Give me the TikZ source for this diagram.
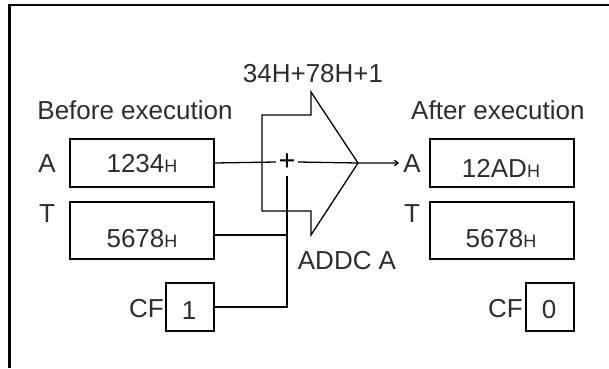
\documentclass[tikz,border=0pt]{standalone}
\usepackage{fontspec}
\setmainfont{Liberation Sans}
\usetikzlibrary{arrows.meta}
\definecolor{txt}{RGB}{45,45,45}
\newcommand\hsub{{\fontsize{18}{20}\selectfont H}}
\begin{document}
\begin{tikzpicture}[x=1pt,y=-1pt,
  lbl/.style={text=txt,font=\fontsize{26}{30}\selectfont,inner sep=0pt,anchor=base},
  box/.style={draw,line width=1.3pt,minimum width=144pt,inner sep=0pt},
  wire/.style={line width=1.3pt}]
\useasboundingbox (0,0) rectangle (609,368);
\draw[line width=2.6pt] (9.5,368) -- (9.5,5) -- (609,5);
% boxes
\node[box,minimum height=48pt] (Ab) at (142,163) {};
\node[box,minimum height=57pt] (Tb) at (142,230.5) {};
\node[box,minimum width=48pt,minimum height=48pt] (Cb) at (190,307) {};
\node[box,minimum height=48pt] (Aa) at (502,163) {};
\node[box,minimum height=57pt] (Ta) at (502,230.5) {};
\node[box,minimum width=48pt,minimum height=48pt] (Ca) at (550,307) {};
% texts
\node[lbl] (before) at (135,119) {Before execution};
\node[lbl,anchor=base west] (after) at (411,119) {After execution};
\node[lbl] (sum) at (313,82) {34H+78H+1};
\node[lbl] (instr) at (347,269) {ADDC A};
\node[lbl] (lA1) at (47,172) {A};
\node[lbl] (lT1) at (47,222) {T};
\node[lbl,anchor=base east] (lC1) at (164,317) {CF};
\node[lbl] (lA2) at (412,172) {A};
\node[lbl] (lT2) at (412,222) {T};
\node[lbl,anchor=base east] (lC2) at (523,317) {CF};
\node[lbl] (vA1) at (142,172) {1234\hsub};
\node[lbl] (vT1) at (142,247) {5678\hsub};
\node[lbl] (vC1) at (189,319) {1};
\node[lbl] (vA2) at (501,177) {12AD\hsub};
\node[lbl] (vT2) at (501,247) {5678\hsub};
\node[lbl] (vC2) at (549,318) {0};
% adder arrow
\coordinate (tip) at (358,163);
\coordinate (aend) at (399,163);
\coordinate (vtop) at (287,176);
\coordinate (tj) at (287,235);
\draw[line width=1.3pt,line join=miter] (262,115) -- (311,115) -- (311,92) -- (tip) -- (311,235) -- (311,211) -- (262,211) -- cycle;
\node[text=black,font=\fontsize{29}{30}\selectfont,inner sep=0pt,minimum width=22pt] (plus) at (287,162) {+};
\draw[wire] (Ab.east) -- (plus.west);
\draw[wire,-{Straight Barb[length=3.5pt,width=5.5pt]}] (plus.east) -- (tip) -- (aend);
\draw[wire] (Tb.east |- tj) -- (tj);
\draw[wire] (Cb.east) -| (vtop);
\end{tikzpicture}
\end{document}
